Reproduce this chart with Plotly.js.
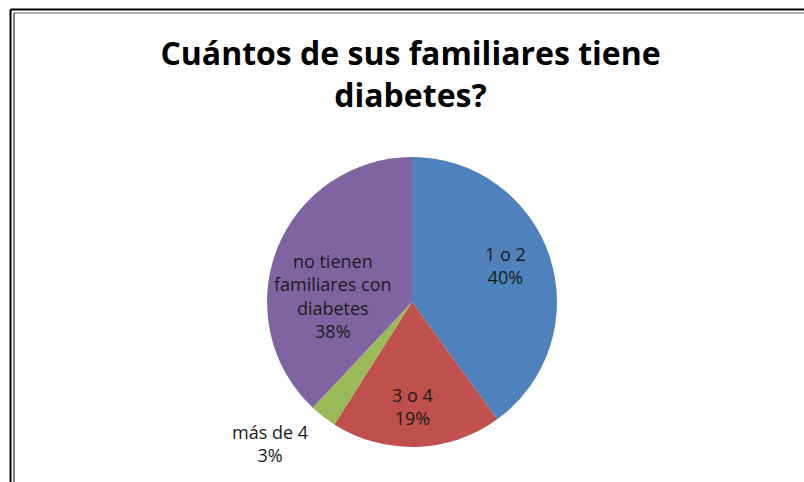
<!DOCTYPE html>
<html>
<head>
<meta charset="utf-8">
<script src="https://cdn.plot.ly/plotly-3.0.1.min.js"></script>
<style>
html,body{margin:0;padding:0;background:#fff;}
#chart{width:804px;height:482px;}
</style>
</head>
<body>
<div id="chart"></div>
<script>
const categories = ["1 o 2", "3 o 4", "más de 4", "no tienen<br>familiares con<br>diabetes"];
const values = [40, 19, 3, 38];
const colors = ["#4F81BD", "#C0504D", "#9BBB59", "#8064A2"];
const chartTitle = "Cuántos de sus familiares tiene<br>diabetes?";

const W = 804, H = 482;
const cx = 412, cy = 302, r = 145;
// label block centres (pixels), style only
const labelAnchors = [[505, 265], [412, 406], [270, 443], [333, 296]];

const total = values.reduce((a, b) => a + b, 0);
const annotations = categories.map((c, i) => ({
  text: c + "<br>" + Math.round(values[i] / total * 100) + "%",
  xref: "paper", yref: "paper",
  x: labelAnchors[i][0] / W, y: 1 - labelAnchors[i][1] / H,
  xanchor: "center", yanchor: "middle", align: "center",
  showarrow: false,
  font: {family: "Open Sans, sans-serif", size: 18, color: "#1a1a1a"}
}));

const trace = {
  type: "pie",
  labels: categories,
  values: values,
  sort: false,
  direction: "clockwise",
  rotation: 0,
  marker: {colors: colors, line: {width: 0}},
  textinfo: "none",
  showlegend: false,
  hoverinfo: "none",
  domain: {
    x: [(cx - r) / W, (cx + r) / W],
    y: [(H - cy - r) / H, (H - cy + r) / H]
  }
};

const layout = {
  width: W, height: H,
  margin: {l: 0, r: 0, t: 0, b: 0},
  paper_bgcolor: "#ffffff",
  title: {
    text: chartTitle,
    font: {family: "Open Sans, sans-serif", size: 32, color: "#000000", weight: "bold"},
    x: 410.5 / W, xanchor: "center",
    y: 1 - 65 / H, yanchor: "middle"
  },
  annotations: annotations,
  shapes: [
    {type: "line", xref: "paper", yref: "paper", x0: 10.5 / W, x1: 10.5 / W, y0: 0, y1: 1 - 9.5 / H, line: {color: "#000", width: 2}},
    {type: "line", xref: "paper", yref: "paper", x0: 10.5 / W, x1: 1, y0: 1 - 9.5 / H, y1: 1 - 9.5 / H, line: {color: "#000", width: 2}},
    {type: "line", xref: "paper", yref: "paper", x0: 14 / W, x1: 14 / W, y0: 0, y1: 1 - 13 / H, line: {color: "#000", width: 1}},
    {type: "line", xref: "paper", yref: "paper", x0: 14 / W, x1: 1, y0: 1 - 13 / H, y1: 1 - 13 / H, line: {color: "#555", width: 1}}
  ]
};

Plotly.newPlot("chart", [trace], layout, {displayModeBar: false, staticPlot: true});
</script>
</body>
</html>
